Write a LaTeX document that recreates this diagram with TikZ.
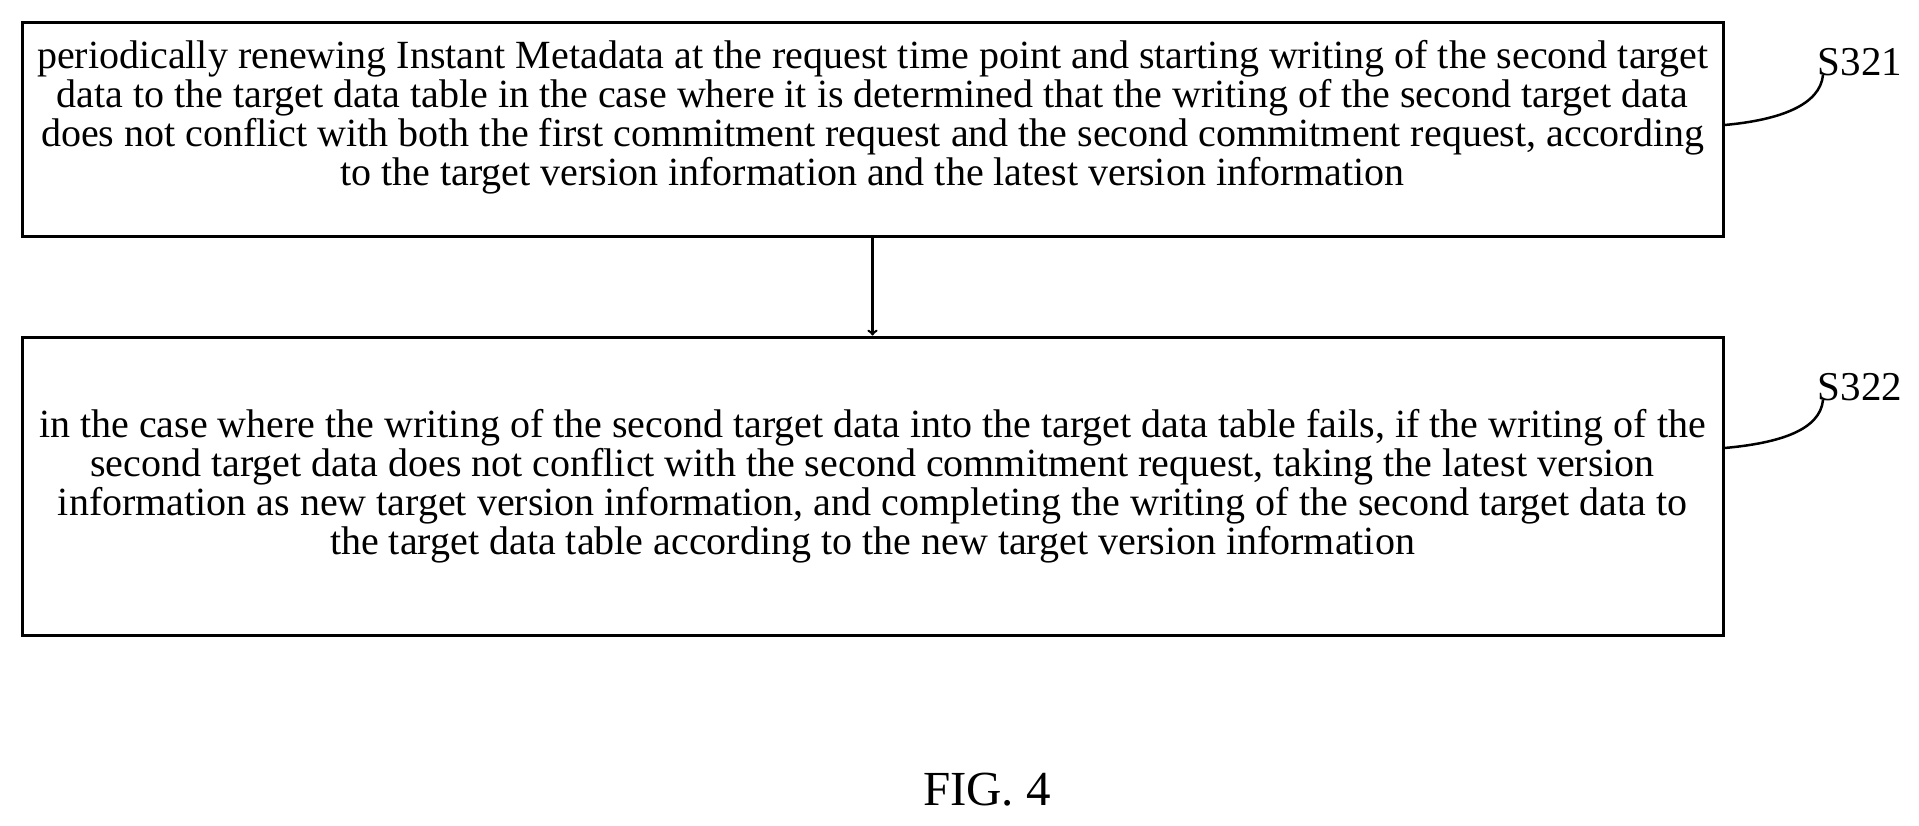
\documentclass[tikz,border=0pt]{standalone}
\usepackage{fontspec}
\setmainfont{Liberation Serif}
\begin{document}
\begin{tikzpicture}[x=1pt,y=-1pt,
  box/.style={draw,line width=3pt,minimum width=1701pt,inner sep=0pt},
  txt/.style={inner sep=0pt,align=center,font=\fontsize{40}{39}\selectfont},
  lab/.style={font=\fontsize{41}{44}\selectfont,inner sep=0pt},
  lead/.style={line width=2.5pt}]
\useasboundingbox (0,0) rectangle (1919,825);
\node[box,minimum height=214pt] (b1) at (872.5,129) {};
\node[txt] (t1) at (872.5,117) {periodically renewing Instant Metadata at the request time point and starting writing of the second target\\data to the target data table in the case where it is determined that the writing of the second target data\\does not conflict with both the first commitment request and the second commitment request, according\\to the target version information and the latest version information};
\node[box,minimum height=298pt] (b2) at (872.5,486) {};
\node[txt] (t2) at (872.5,486) {in the case where the writing of the second target data into the target data table fails, if the writing of the\\second target data does not conflict with the second commitment request, taking the latest version\\information as new target version information, and completing the writing of the second target data to\\the target data table according to the new target version information};
\draw[line width=2.5pt,->] (b1) -- (b2);
\node[lab] (l1) at (1860,62) {S321};
\node[lab] (l2) at (1860,387) {S322};
\coordinate (e1) at (1823,75);
\coordinate (e2) at (1823,400);
\draw[lead] (b1.east |- 0,125) .. controls (1780,120) and (1820,105) .. (e1);
\draw[lead] (b2.east |- 0,448) .. controls (1780,443) and (1820,430) .. (e2);
\node[font=\fontsize{49}{52}\selectfont] (fig) at (987,790) {FIG. 4};
\end{tikzpicture}
\end{document}
